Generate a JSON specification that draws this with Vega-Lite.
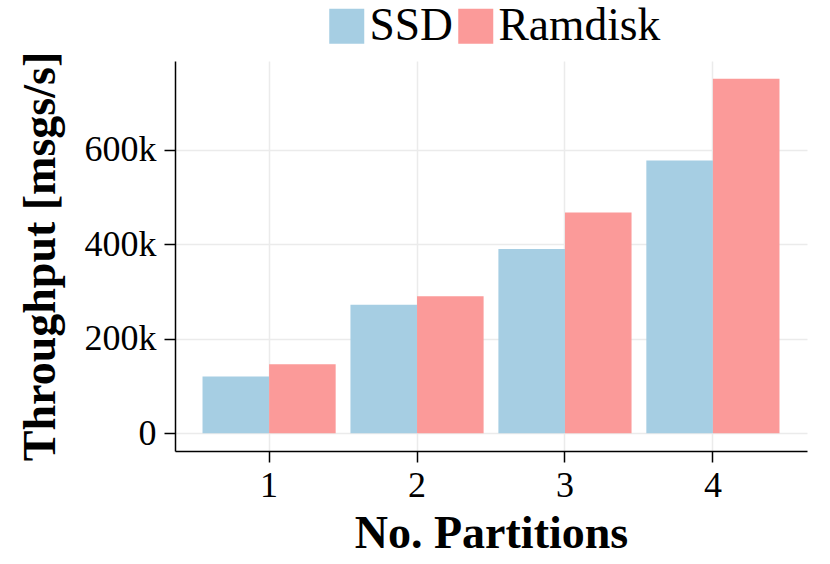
{
  "$schema": "https://vega.github.io/schema/vega-lite/v6.json",
  "autosize": {"type": "none"},
  "padding": {"left": 175, "top": 61, "right": 23, "bottom": 113},
  "width": 632,
  "height": 390,
  "background": "white",
  "config": {
    "view": {"stroke": null},
    "font": "Liberation Serif",
    "axis": {
      "domainColor": "black",
      "domainWidth": 1.5,
      "tickColor": "black",
      "tickWidth": 1.5,
      "tickSize": 11,
      "gridColor": "#ebebeb",
      "gridWidth": 1.5,
      "labelFont": "Liberation Serif",
      "labelFontSize": 36,
      "labelColor": "black",
      "titleFont": "Liberation Serif",
      "titleFontSize": 46,
      "titleFontWeight": "bold",
      "titleColor": "black"
    }
  },
  "data": {
    "values": [
      {"partitions": "1", "storage": "SSD", "throughput": 120000},
      {"partitions": "1", "storage": "Ramdisk", "throughput": 146000},
      {"partitions": "2", "storage": "SSD", "throughput": 272000},
      {"partitions": "2", "storage": "Ramdisk", "throughput": 290000},
      {"partitions": "3", "storage": "SSD", "throughput": 390000},
      {"partitions": "3", "storage": "Ramdisk", "throughput": 467000},
      {"partitions": "4", "storage": "SSD", "throughput": 577000},
      {"partitions": "4", "storage": "Ramdisk", "throughput": 750000}
    ]
  },
  "mark": {"type": "bar"},
  "encoding": {
    "x": {
      "field": "partitions",
      "type": "ordinal",
      "scale": {"paddingInner": 0.1, "paddingOuter": 0.186},
      "axis": {
        "title": "No. Partitions",
        "labelAngle": 0,
        "labelPadding": 6,
        "titlePadding": 8,
        "grid": true
      }
    },
    "xOffset": {
      "field": "storage",
      "type": "nominal",
      "sort": ["SSD", "Ramdisk"],
      "scale": {"paddingInner": 0, "paddingOuter": 0}
    },
    "y": {
      "field": "throughput",
      "type": "quantitative",
      "scale": {"domain": [-37500, 787500], "nice": false, "zero": false},
      "axis": {
        "title": "Throughput [msgs/s]",
        "values": [0, 200000, 400000, 600000],
        "labelExpr": "datum.value == 0 ? '0' : format(datum.value / 1000, 'd') + 'k'",
        "labelPadding": 8,
        "titlePadding": 20,
        "grid": true
      }
    },
    "color": {
      "field": "storage",
      "type": "nominal",
      "sort": ["SSD", "Ramdisk"],
      "scale": {"domain": ["SSD", "Ramdisk"], "range": ["#a6cee3", "#fb9a99"]},
      "legend": {
        "title": null,
        "orient": "none",
        "direction": "horizontal",
        "legendX": 149,
        "legendY": -58,
        "symbolType": "square",
        "symbolSize": 1225,
        "symbolStrokeWidth": 0,
        "symbolOpacity": 1,
        "labelFont": "Liberation Serif",
        "labelFontSize": 45.5,
        "labelColor": "black",
        "labelOffset": 0,
        "columnPadding": 0,
        "labelLimit": 400
      }
    }
  }
}
